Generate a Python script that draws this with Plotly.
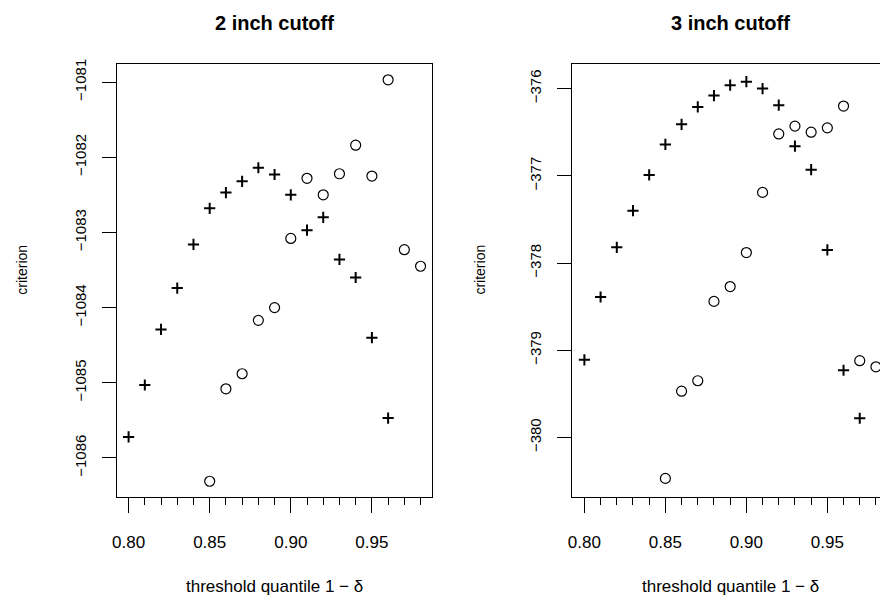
import plotly.graph_objects as go

# ---- data ----
x_plus_2 = [0.80, 0.81, 0.82, 0.83, 0.84, 0.85, 0.86, 0.87, 0.88, 0.89, 0.90,
            0.91, 0.92, 0.93, 0.94, 0.95, 0.96]
y_plus_2 = [-1085.72, -1085.03, -1084.29, -1083.74, -1083.16, -1082.68, -1082.47,
            -1082.32, -1082.14, -1082.23, -1082.50, -1082.97, -1082.80, -1083.36,
            -1083.60, -1084.40, -1085.47]
x_circ_2 = [0.85, 0.86, 0.87, 0.88, 0.89, 0.90, 0.91, 0.92, 0.93, 0.94, 0.95,
            0.96, 0.97, 0.98]
y_circ_2 = [-1086.31, -1085.08, -1084.88, -1084.17, -1084.00, -1083.08, -1082.28,
            -1082.50, -1082.22, -1081.84, -1082.25, -1080.97, -1083.23, -1083.45]

x_plus_3 = [0.80, 0.81, 0.82, 0.83, 0.84, 0.85, 0.86, 0.87, 0.88, 0.89, 0.90,
            0.91, 0.92, 0.93, 0.94, 0.95, 0.96, 0.97]
y_plus_3 = [-379.11, -378.39, -377.82, -377.40, -376.99, -376.64, -376.41, -376.21,
            -376.08, -375.96, -375.92, -376.00, -376.19, -376.66, -376.93, -377.85,
            -379.23, -379.78]
x_circ_3 = [0.85, 0.86, 0.87, 0.88, 0.89, 0.90, 0.91, 0.92, 0.93, 0.94, 0.95,
            0.96, 0.97, 0.98]
y_circ_3 = [-380.47, -379.47, -379.35, -378.44, -378.27, -377.88, -377.19, -376.52,
            -376.43, -376.50, -376.45, -376.20, -379.12, -379.19]

x_tickvals = [0.80, 0.85, 0.90, 0.95]
x_ticktext = ["0.80", "0.85", "0.90", "0.95"]
y_ticks_2 = [-1086, -1085, -1084, -1083, -1082, -1081]
y_ticks_3 = [-380, -379, -378, -377, -376]

titles = ["2 inch cutoff", "3 inch cutoff"]
xlabel = "threshold quantile 1 \u2212 \u03b4"
ylabel = "criterion"

# ---- layout geometry ----
W, H = 880, 608
FONT = "Liberation Sans, Arial, Helvetica, sans-serif"

def px_x(p):
    return p / W

def px_y(p):
    return 1 - p / H

plot_top, plot_bot = 59, 495.7
left_dom = [px_x(112.7), px_x(429.3)]
right_dom = [px_x(570.7), 1.0]

fig = go.Figure()

plus_style = dict(symbol="cross-thin-open", size=8, color="black",
                  line=dict(color="black", width=2))
circ_style = dict(symbol="circle-open", size=10, color="black",
                  line=dict(color="black", width=1.2))

fig.add_trace(go.Scatter(x=x_plus_2, y=y_plus_2, mode="markers", marker=plus_style,
                         xaxis="x", yaxis="y", showlegend=False))
fig.add_trace(go.Scatter(x=x_circ_2, y=y_circ_2, mode="markers", marker=circ_style,
                         xaxis="x", yaxis="y", showlegend=False))
fig.add_trace(go.Scatter(x=x_plus_3, y=y_plus_3, mode="markers", marker=plus_style,
                         xaxis="x2", yaxis="y2", showlegend=False))
fig.add_trace(go.Scatter(x=x_circ_3, y=y_circ_3, mode="markers", marker=circ_style,
                         xaxis="x2", yaxis="y2", showlegend=False))

def xaxis(dom, rng, anchor):
    return dict(domain=dom, range=rng, anchor=anchor,
                tickvals=x_tickvals, ticktext=x_ticktext,
                ticks="outside", ticklen=15, tickwidth=1, tickcolor="black",
                minor=dict(dtick=0.01, tick0=0.8, ticks="outside", ticklen=7,
                           tickwidth=1, tickcolor="black", showgrid=False),
                showline=True, linecolor="black", linewidth=1, mirror=True,
                showgrid=False, zeroline=False,
                tickfont=dict(family=FONT, size=17, color="black"),
                ticklabelstandoff=15)

def yaxis(dom, rng, anchor, ticks, mirror):
    return dict(domain=dom, range=rng, anchor=anchor,
                tickvals=ticks, ticks="outside", ticklen=14, tickwidth=1,
                tickcolor="black", tickangle=-90,
                showline=True, linecolor="black", linewidth=1, mirror=mirror,
                showgrid=False, zeroline=False,
                tickfont=dict(family=FONT, size=15, color="black"),
                ticklabelstandoff=10)

ydom = [px_y(plot_bot), px_y(plot_top)]

fig.update_layout(
    width=W, height=H,
    margin=dict(l=0, r=0, t=0, b=0),
    paper_bgcolor="white", plot_bgcolor="white",
    showlegend=False,
    xaxis=xaxis(left_dom, [0.79289, 0.98697], "y"),
    yaxis=yaxis(ydom, [-1086.5145, -1080.7533], "x", y_ticks_2, True),
    xaxis2=xaxis(right_dom, [0.79263, 0.98251], "y2"),
    yaxis2=yaxis(ydom, [-380.679, -375.712], "x2", y_ticks_3, False),
)

ann = []
centers = [271.0, 729.2]
ylab_x = [17, 477.5]
for i in range(2):
    ann.append(dict(text="<b>" + titles[i] + "</b>", x=px_x(centers[i]), y=px_y(18.5),
                    xref="paper", yref="paper", xanchor="center", yanchor="middle",
                    showarrow=False, font=dict(family=FONT, size=20, color="black")))
    ann.append(dict(text=xlabel, x=px_x(centers[i]), y=px_y(586),
                    xref="paper", yref="paper", xanchor="center", yanchor="middle",
                    showarrow=False, font=dict(family=FONT, size=17, color="black")))
    ann.append(dict(text=ylabel, x=px_x(ylab_x[i]), y=px_y(267),
                    xref="paper", yref="paper", xanchor="center", yanchor="middle",
                    textangle=-90,
                    showarrow=False, font=dict(family=FONT, size=14, color="black")))
fig.update_layout(annotations=ann)

fig.write_html("out.html")
